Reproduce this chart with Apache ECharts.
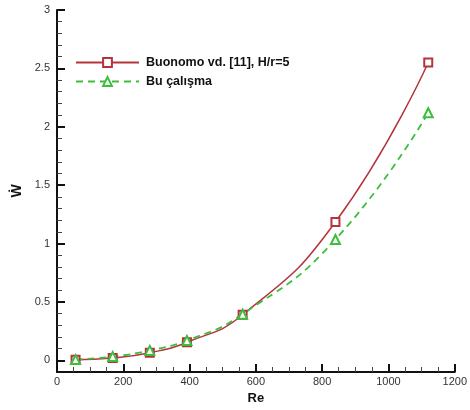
<!DOCTYPE html>
<html>
<head>
<meta charset="utf-8">
<script src="https://cdn.jsdelivr.net/npm/echarts@6/dist/echarts.min.js"></script>
<style>
  html, body { margin: 0; padding: 0; background: #fff; }
  #chart { width: 470px; height: 410px; }
</style>
</head>
<body>
<div id="chart"></div>
<script>
// Re values and power for both series
const reValues = [56, 168, 280, 392, 560, 840, 1120]
const buonomo = [0.004, 0.02, 0.065, 0.155, 0.39, 1.185, 2.55]
const buCalisma = [0.006, 0.032, 0.085, 0.17, 0.395, 1.035, 2.12]

const seriesNames = ['Buonomo vd. [11], H/r=5', 'Bu çalışma']

// y axis starts a bit below zero, so ticks are given explicitly
const yMajorTicks = [0, 0.5, 1, 1.5, 2, 2.5, 3]
const yMinorTicks = [0.1, 0.2, 0.3, 0.4, 0.6, 0.7, 0.8, 0.9, 1.1, 1.2, 1.3, 1.4,
  1.6, 1.7, 1.8, 1.9, 2.1, 2.2, 2.3, 2.4, 2.6, 2.7, 2.8, 2.9]

const red = '#b3343c'
const green = '#3dbe3d'
const font = 'Liberation Sans, Arial, sans-serif'

const chart = echarts.init(document.getElementById('chart'), null, { renderer: 'canvas' })

const option = {
  animation: false,
  grid: { left: 57, right: 13, top: 10, bottom: 34 },
  legend: {
    orient: 'vertical',
    left: 70,
    top: 51,
    itemWidth: 63,
    itemHeight: 11,
    itemGap: 6,
    textStyle: {
      fontFamily: font,
      fontSize: 12.5,
      fontWeight: 'bold',
      color: '#111',
      padding: [0, 0, 0, 2]
    }
  },
  xAxis: {
    type: 'value',
    min: 0,
    max: 1200,
    interval: 200,
    name: 'Re',
    nameLocation: 'middle',
    nameGap: 20,
    nameTextStyle: { fontFamily: font, fontSize: 13, fontWeight: 'bold', color: '#111' },
    axisLine: { show: true, onZero: false, lineStyle: { color: '#111', width: 2 } },
    axisTick: { show: true, inside: true, length: 8, lineStyle: { color: '#111', width: 2 } },
    minorTick: { show: true, splitNumber: 4, length: 5, lineStyle: { color: '#444', width: 1 } },
    axisLabel: {
      fontFamily: font, fontSize: 11, color: '#333', margin: 4,
      formatter: v => String(v)
    },
    splitLine: { show: false }
  },
  yAxis: [
    {
      type: 'value',
      min: -0.1,
      max: 3,
      name: 'Ẇ',
      nameLocation: 'middle',
      nameGap: 33,
      nameRotate: 90,
      nameTextStyle: { fontFamily: font, fontSize: 14, fontWeight: 'bold', color: '#111' },
      axisLine: { show: true, onZero: false, lineStyle: { color: '#111', width: 2 } },
      axisTick: {
        show: true, inside: true, length: 8, customValues: yMajorTicks,
        lineStyle: { color: '#111', width: 2 }
      },
      axisLabel: {
        fontFamily: font, fontSize: 11, color: '#333', margin: 7,
        customValues: yMajorTicks
      },
      splitLine: { show: false }
    },
    {
      // minor ticks only
      type: 'value',
      position: 'left',
      min: -0.1,
      max: 3,
      axisLine: { show: false, onZero: false },
      axisTick: {
        show: true, inside: true, length: 5, customValues: yMinorTicks,
        lineStyle: { color: '#444', width: 1 }
      },
      axisLabel: { show: false },
      splitLine: { show: false }
    }
  ],
  series: [
    {
      name: seriesNames[0],
      type: 'line',
      data: reValues.map((x, i) => [x, buonomo[i]]),
      smooth: true,
      symbol: 'emptyRect',
      symbolSize: 8,
      lineStyle: { color: red, width: 1.5 },
      itemStyle: { color: red, borderColor: red, borderWidth: 1.5 }
    },
    {
      name: seriesNames[1],
      type: 'line',
      data: reValues.map((x, i) => [x, buCalisma[i]]),
      smooth: true,
      symbol: 'emptyTriangle',
      symbolSize: 9,
      lineStyle: { color: green, width: 1.8, type: [7, 5] },
      itemStyle: { color: green, borderColor: green, borderWidth: 1.5 }
    }
  ]
}

chart.setOption(option)
</script>
</body>
</html>
